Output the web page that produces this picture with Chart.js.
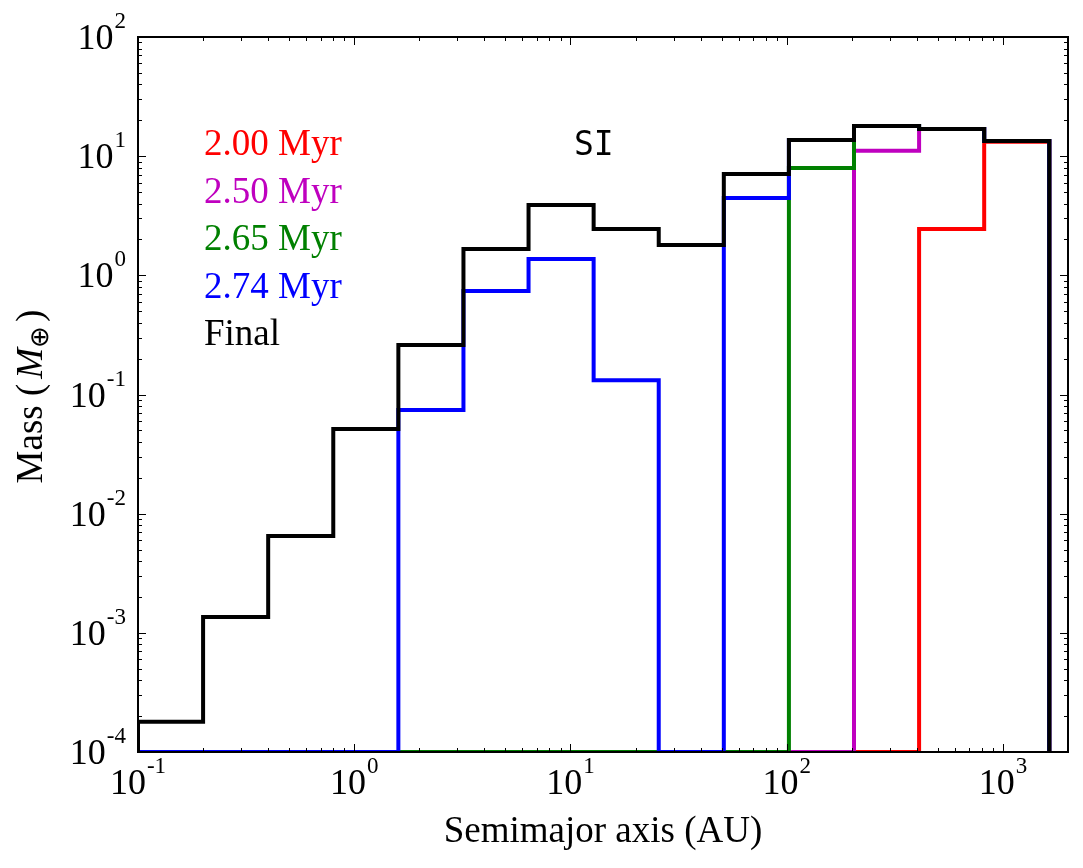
<!DOCTYPE html>
<html lang="en">
<head>
    <meta charset="UTF-8">
    <title>Mass vs semimajor axis</title>
    <script src="https://cdn.jsdelivr.net/npm/chart.js"></script>
    <style>
        body {
            margin: 0;
            background-color: #fff;
        }

        #wrap {
            width: 1083px;
            height: 868px;
        }
    </style>
</head>
<body>
    <div id="wrap">
        <canvas id="massChart" width="1083" height="868"></canvas>
    </div>

    <script>
        // Bin edges (AU), each bin twice the previous one
        const binEdges = [0.1, 0.2, 0.4, 0.8, 1.6, 3.2, 6.4, 12.8, 25.6, 51.2, 102.4, 204.8, 409.6, 819.2, 1638.4];

        // Mass per bin (Earth masses), 0 = empty bin
        const mass200 = [0, 0, 0, 0, 0, 0, 0, 0, 0, 0, 0, 0, 2.45, 13.2];
        const mass250 = [0, 0, 0, 0, 0, 0, 0, 0, 0, 0, 0, 11.1, 16.9, 13.4];
        const mass265 = [0, 0, 0, 0, 0, 0, 0, 0, 0, 0, 7.94, 17.9, 16.9, 13.4];
        const mass274 = [0, 0, 0, 0, 0.074, 0.738, 1.37, 0.132, 0, 4.46, 13.66, 17.9, 16.9, 13.4];
        const massFinal = [1.79e-4, 1.36e-3, 6.49e-3, 0.0513, 0.26, 1.66, 3.89, 2.45, 1.8, 7.08, 13.66, 17.9, 16.9, 13.4];

        const seriesLabels = ['2.00 Myr', '2.50 Myr', '2.65 Myr', '2.74 Myr', 'Final'];
        const seriesColors = ['#ff0000', '#bf00bf', '#008000', '#0000ff', '#000000'];

        const xTickDecades = [-1, 0, 1, 2, 3];
        const yTickDecades = [-4, -3, -2, -1, 0, 1, 2];

        const X_MIN = 0.1, X_MAX = 2000;
        const Y_MIN = 1e-4, Y_MAX = 100;

        const SERIF = '"Liberation Serif", "Times New Roman", serif';

        // histogram outline: start at floor, one point per bin, drop to floor at the end
        function stepPoints(values) {
            const pts = [{ x: binEdges[0], y: Y_MIN }];
            values.forEach((v, i) => pts.push({ x: binEdges[i], y: Math.max(v, Y_MIN) }));
            pts.push({ x: binEdges[binEdges.length - 1], y: Y_MIN });
            return pts;
        }

        const allSeries = [mass200, mass250, mass265, mass274, massFinal];
        const datasets = allSeries.map((vals, i) => ({
            label: seriesLabels[i],
            data: stepPoints(vals),
            borderColor: seriesColors[i],
            borderWidth: 4,
            pointRadius: 0,
            fill: false,
            stepped: true,
            clip: 0,
            order: allSeries.length - 1 - i
        }));

        // draw "10^n" with a raised exponent
        function drawPower(ctx, exp, x, y, align) {
            const base = '10', sup = String(exp);
            ctx.font = '36px ' + SERIF;
            const wBase = ctx.measureText(base).width;
            ctx.font = '23px ' + SERIF;
            const wSup = ctx.measureText(sup).width;
            const total = wBase + 1 + wSup;
            let left = x;
            if (align === 'center') left = x - total / 2;
            if (align === 'right') left = x - total;
            ctx.textAlign = 'left';
            ctx.textBaseline = 'alphabetic';
            ctx.font = '36px ' + SERIF;
            ctx.fillText(base, left, y);
            ctx.font = '23px ' + SERIF;
            ctx.fillText(sup, left + wBase + 1, y - 21);
        }

        const frameAndTicks = {
            id: 'frameAndTicks',
            afterDatasetsDraw(chart) {
                const ctx = chart.ctx;
                const area = chart.chartArea;
                const xs = chart.scales.x, ys = chart.scales.y;
                ctx.save();
                ctx.fillStyle = '#000';
                ctx.strokeStyle = '#000';

                // frame
                ctx.lineWidth = 2;
                ctx.strokeRect(area.left, area.top, area.right - area.left, area.bottom - area.top);

                // inward ticks on all four sides
                ctx.lineWidth = 1;
                ctx.beginPath();
                for (let d = -1; d <= 3; d++) {
                    for (let m = 1; m <= 9; m++) {
                        const v = m * Math.pow(10, d);
                        if (v < X_MIN || v > X_MAX) continue;
                        const px = Math.round(xs.getPixelForValue(v)) + 0.5;
                        const len = m === 1 ? 8 : 4;
                        ctx.moveTo(px, area.bottom); ctx.lineTo(px, area.bottom - len);
                        ctx.moveTo(px, area.top); ctx.lineTo(px, area.top + len);
                    }
                }
                for (let d = -4; d <= 2; d++) {
                    for (let m = 1; m <= 9; m++) {
                        const v = m * Math.pow(10, d);
                        if (v < Y_MIN || v > Y_MAX) continue;
                        const py = Math.round(ys.getPixelForValue(v)) + 0.5;
                        const len = m === 1 ? 8 : 4;
                        ctx.moveTo(area.left, py); ctx.lineTo(area.left + len, py);
                        ctx.moveTo(area.right, py); ctx.lineTo(area.right - len, py);
                    }
                }
                ctx.stroke();

                // tick labels
                xTickDecades.forEach(d => {
                    drawPower(ctx, d, xs.getPixelForValue(Math.pow(10, d)), area.bottom + 42, 'center');
                });
                yTickDecades.forEach(d => {
                    drawPower(ctx, d, area.left - 12, ys.getPixelForValue(Math.pow(10, d)) + 12, 'right');
                });

                // axis titles
                ctx.font = '37px ' + SERIF;
                ctx.textAlign = 'center';
                ctx.fillText('Semimajor axis (AU)', (area.left + area.right) / 2, 842);

                ctx.save();
                ctx.translate(42, (area.top + area.bottom) / 2 + 2);
                ctx.rotate(-Math.PI / 2);
                const p1 = 'Mass (', p2 = 'M', p3 = '\u2295', p4 = ')';
                ctx.font = '37px ' + SERIF;
                const w1 = ctx.measureText(p1).width + 5;
                ctx.font = 'italic 37px ' + SERIF;
                const w2 = ctx.measureText(p2).width;
                ctx.font = '26px ' + SERIF;
                const w3 = ctx.measureText(p3).width;
                ctx.font = '37px ' + SERIF;
                const w4 = ctx.measureText(p4).width;
                let cx = -(w1 + w2 + w3 + w4 + 4) / 2;
                ctx.textAlign = 'left';
                ctx.font = '37px ' + SERIF;
                ctx.fillText(p1, cx, 0); cx += w1;
                ctx.font = 'italic 37px ' + SERIF;
                ctx.fillText(p2, cx, 0); cx += w2;
                ctx.font = '26px ' + SERIF;
                ctx.fillText(p3, cx, 6); cx += w3 + 4;
                ctx.font = '37px ' + SERIF;
                ctx.fillText(p4, cx, 0);
                ctx.restore();

                // text legend
                ctx.font = '37px ' + SERIF;
                ctx.textAlign = 'left';
                seriesLabels.forEach((lab, i) => {
                    ctx.fillStyle = seriesColors[i];
                    ctx.fillText(lab, 204, 155 + i * 47.5);
                });

                ctx.fillStyle = '#000';
                ctx.font = '33px "DejaVu Sans Mono", monospace';
                ctx.fillText('SI', 574, 155);
                ctx.restore();
            }
        };

        new Chart(document.getElementById('massChart').getContext('2d'), {
            type: 'line',
            data: { datasets: datasets },
            options: {
                responsive: false,
                animation: false,
                layout: {
                    padding: { left: 138, right: 15, top: 37, bottom: 116 }
                },
                plugins: {
                    legend: { display: false },
                    tooltip: { enabled: false }
                },
                scales: {
                    x: { type: 'logarithmic', min: X_MIN, max: X_MAX, display: false },
                    y: { type: 'logarithmic', min: Y_MIN, max: Y_MAX, display: false }
                }
            },
            plugins: [frameAndTicks]
        });
    </script>
</body>
</html>
